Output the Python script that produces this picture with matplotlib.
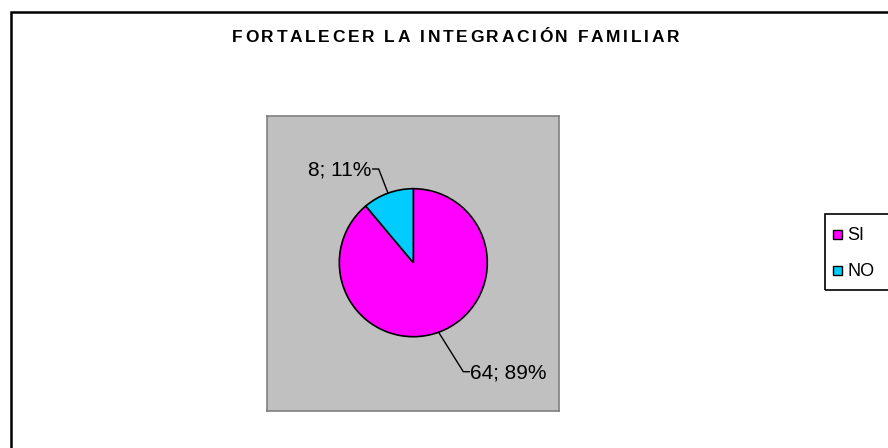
import numpy as np
import matplotlib.pyplot as plt
from matplotlib.patches import Rectangle
from matplotlib import font_manager as fm
from matplotlib.ft2font import FT2Font

plt.rcParams['font.family'] = ['Liberation Sans', 'DejaVu Sans']

# datos
title = 'FORTALECER LA INTEGRACIÓN FAMILIAR'
categorias = ['SI', 'NO']
valores = [64, 8]
colores = ['#FF00FF', '#00CCFF']

W, H = 888, 448
fig = plt.figure(figsize=(W / 100, H / 100), dpi=100)

# marco exterior (cortado a la derecha y abajo)
fig.add_artist(Rectangle((11 / W, -0.05), 1.0, 1 - 12 / H + 0.05,
                         transform=fig.transFigure, fill=False,
                         edgecolor='black', linewidth=1.8, clip_on=False))

# titulo con espaciado entre letras (como en Excel)
tsize = 12.5
fpath = fm.findfont(fm.FontProperties(family='Liberation Sans', weight='bold'))
ft = FT2Font(fpath)
ft.set_size(tsize, 100)
adv = [ft.load_char(ord(c)).linearHoriAdvance / 65536 for c in title]
t_x0, t_x1 = 232, 679
track = (t_x1 - t_x0 - sum(adv)) / (len(title) - 1)
xpos = t_x0
for c, a in zip(title, adv):
    fig.text(xpos / W, 1 - 37 / H, c, ha='left', va='center',
             fontsize=tsize, fontweight='bold')
    xpos += a + track

# area gris del grafico (unidades en pixeles)
x0, y0, x1, y1 = 266.7, 115.7, 559, 411
ax = fig.add_axes([x0 / W, 1 - y1 / H, (x1 - x0) / W, (y1 - y0) / H])

cx, cy, r = 413.3 - x0, y1 - 262.7, 74
wedges, _ = ax.pie(valores, colors=colores, startangle=90, counterclock=False,
                   center=(cx, cy), radius=r, frame=True,
                   wedgeprops=dict(edgecolor='black', linewidth=1.2))
ax.set_facecolor('#C0C0C0')
for s in ax.spines.values():
    s.set_color('#808080')
    s.set_linewidth(1.2)
ax.set_aspect('auto')
ax.set_xlim(0, x1 - x0)
ax.set_ylim(0, y1 - y0)
ax.set_xticks([])
ax.set_yticks([])

total = sum(valores)
# esquina de la linea guia y lado del texto para cada etiqueta
guias = [((196.6, 39.3), 'left'), ((112.0, 242.0), 'right')]
for w, v, (corner, lado) in zip(wedges, valores, guias):
    ang = np.deg2rad((w.theta1 + w.theta2) / 2)
    px, py = cx + r * np.cos(ang), cy + r * np.sin(ang)
    dx = 6 if lado == 'left' else -6
    ax.plot([px, corner[0], corner[0] + dx], [py, corner[1], corner[1]],
            color='black', linewidth=1.0)
    ax.text(corner[0] + dx * 1.2, corner[1] - 1, f'{v}; {round(v / total * 100)}%',
            ha=lado, va='center', fontsize=15)

# leyenda
fig.add_artist(Rectangle((825 / W, 1 - 290 / H), 0.2, 76 / H,
                         transform=fig.transFigure, fill=False,
                         edgecolor='black', linewidth=1.2, clip_on=False))
for i, (cat, col) in enumerate(zip(categorias, colores)):
    yc = 235 + i * 36
    fig.add_artist(Rectangle((833 / W, 1 - (yc + 4.5) / H), 9 / W, 9 / H,
                             transform=fig.transFigure, facecolor=col,
                             edgecolor='black', linewidth=1.0))
    fig.text(847 / W, 1 - yc / H, cat, ha='left', va='center', fontsize=13)

fig.savefig('out.png', dpi=100)
